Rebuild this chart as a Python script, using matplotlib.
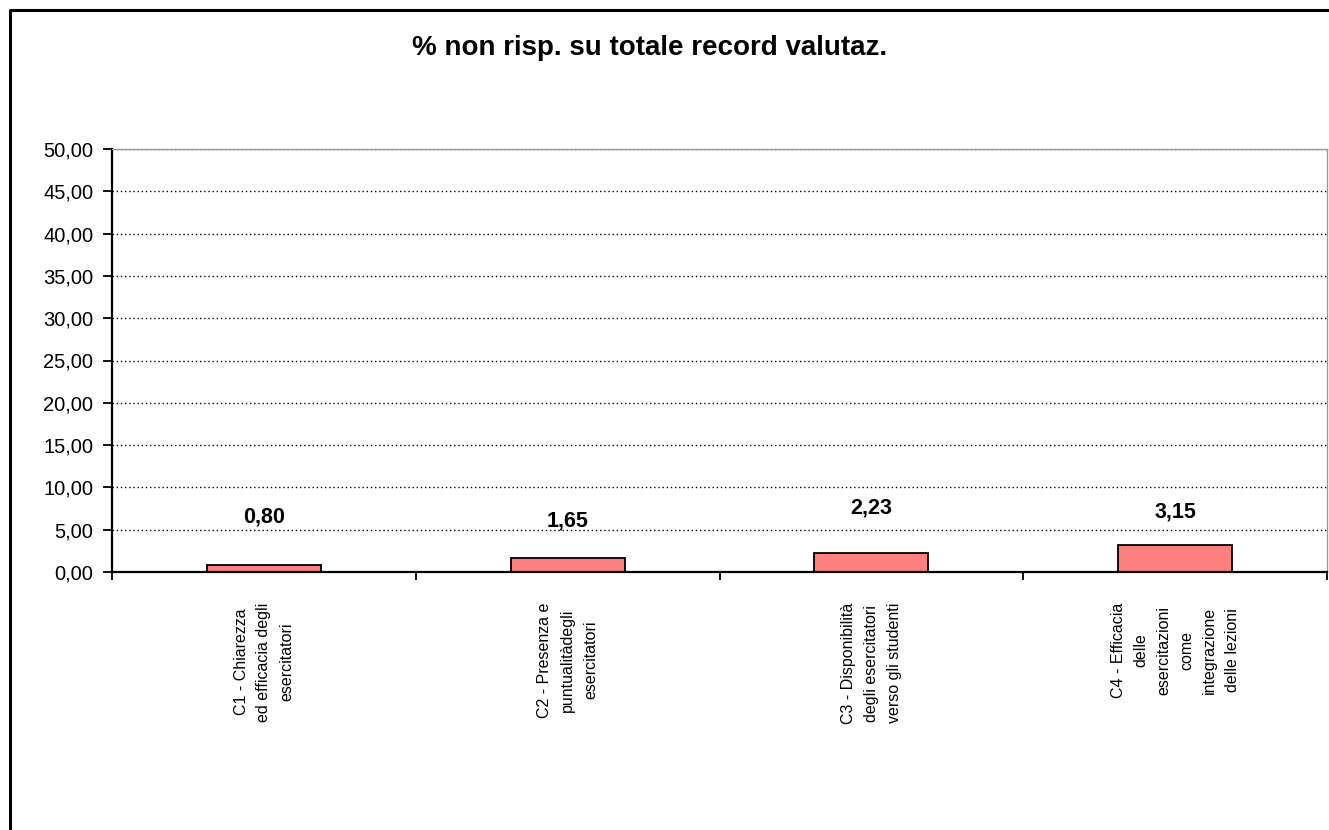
import matplotlib
matplotlib.use("Agg")
import matplotlib.pyplot as plt
from matplotlib.lines import Line2D
from matplotlib.ticker import FuncFormatter, MultipleLocator

plt.rcParams['font.family'] = ['Liberation Sans', 'DejaVu Sans']

# data
categories = [
    "C1 - Chiarezza\ned efficacia degli\nesercitatori",
    "C2 - Presenza e\npuntualitàdegli\nesercitatori",
    "C3 - Disponibilità\ndegli esercitatori\nverso gli studenti",
    "C4 - Efficacia\ndelle\nesercitazioni\ncome\nintegrazione\ndelle lezioni",
]
values = [0.80, 1.65, 2.23, 3.15]
title = "% non risp. su totale record valutaz."

# layout: vertical offset (data units) of the value labels above each bar
label_lift = [5.7, 4.4, 5.3, 3.9]

W, H = 1329, 830
fig = plt.figure(figsize=(W / 100, H / 100), dpi=100)
fig.patch.set_facecolor('white')

ax = fig.add_axes([112 / W, 1 - 572 / H, (1327 - 112) / W, (572 - 149) / H])

x = list(range(len(values)))
ax.bar(x, values, width=0.375, color='#FF8080', edgecolor='black', linewidth=1.3, zorder=3)

ax.set_xlim(-0.5, len(values) - 0.5)
ax.set_ylim(0, 50)
ax.yaxis.set_major_locator(MultipleLocator(5))
ax.yaxis.set_major_formatter(FuncFormatter(lambda v, p: f"{v:.2f}".replace('.', ',')))
ax.set_xticks([i - 0.5 for i in range(len(values) + 1)])
ax.set_xticklabels([])
ax.tick_params(axis='y', direction='out', length=6.5, width=1.3, labelsize=14.5, pad=7)
ax.tick_params(axis='x', direction='out', length=6, width=1.3)

ax.grid(axis='y', linestyle=(0, (1, 2)), color='black', linewidth=1.0, zorder=0)
ax.set_axisbelow(True)

ax.spines['left'].set_linewidth(1.6)
ax.spines['bottom'].set_linewidth(1.6)
ax.spines['bottom'].set_zorder(4)
for s in ('top', 'right'):
    ax.spines[s].set_color('#999999')
    ax.spines[s].set_linewidth(1.0)

for xi, v, lift in zip(x, values, label_lift):
    ax.text(xi, v + lift, f"{v:.2f}".replace('.', ','), ha='center', va='center',
            fontsize=15.5, fontweight='bold')

for xi, cat in zip(x, categories):
    ax.annotate(cat, xy=(xi, 0), xycoords=('data', 'axes fraction'),
                xytext=(0, -22), textcoords='offset points',
                rotation=90, ha='center', va='top', multialignment='center',
                fontsize=11.5, linespacing=1.65)

fig.text(650 / W, 1 - 48 / H, title, ha='center', va='center',
         fontsize=20, fontweight='bold')

# outer chart-area border (left and top edges)
fig.add_artist(Line2D([10 / W, 10 / W, 1.0], [0.0, 1 - 10 / H, 1 - 10 / H],
                      transform=fig.transFigure, color='black', linewidth=2.2))

fig.savefig("out.png", dpi=100)
